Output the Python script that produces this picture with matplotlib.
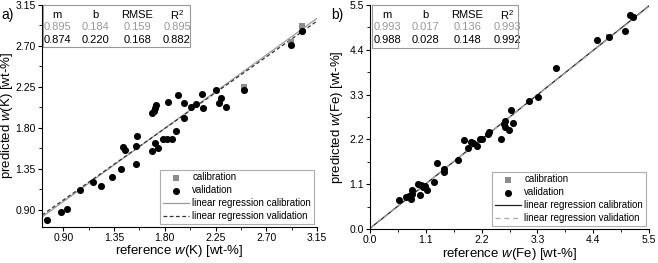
import numpy as np
import matplotlib
matplotlib.use('Agg')
import matplotlib.pyplot as plt
from matplotlib.patches import Rectangle
from matplotlib.ticker import MultipleLocator, FormatStrFormatter

plt.rcParams['font.family'] = ['Liberation Sans', 'DejaVu Sans']
plt.rcParams['mathtext.fontset'] = 'custom'
plt.rcParams['mathtext.rm'] = 'Liberation Sans'
plt.rcParams['mathtext.it'] = 'Liberation Sans:italic'

# ---- panel a: potassium ----
k_val_ref = [0.75, 0.88, 0.93, 1.05, 1.16, 1.23, 1.33, 1.41, 1.43, 1.45,
             1.54, 1.54, 1.55, 1.69, 1.71, 1.735, 1.78, 1.82, 1.86, 1.90,
             1.97, 1.69, 1.70, 1.715, 1.72, 1.83, 1.92, 1.97, 2.03, 2.08,
             2.13, 2.14, 2.25, 2.28, 2.30, 2.34, 2.50, 2.92, 3.015]
k_val_pred = [0.79, 0.87, 0.91, 1.115, 1.20, 1.16, 1.255, 1.35, 1.59, 1.56,
              1.40, 1.60, 1.71, 1.54, 1.63, 1.58, 1.675, 1.675, 1.675, 1.76,
              1.905, 1.96, 1.99, 2.02, 2.05, 2.08, 2.16, 2.07, 2.03, 2.06,
              2.17, 2.02, 2.22, 2.07, 2.13, 2.03, 2.22, 2.71, 2.865]
k_cal_ref = [2.50, 2.92, 3.015]
k_cal_pred = [2.25, 2.745, 2.92]
k_stats_cal = ['0.895', '0.184', '0.159', '0.895']
k_stats_val = ['0.874', '0.220', '0.168', '0.882']
k_fit_cal = (0.895, 0.184)
k_fit_val = (0.874, 0.220)

# ---- panel b: iron ----
fe_val_ref = [0.578, 0.715, 0.775, 0.808, 0.82, 0.834, 0.952, 0.985, 1.0, 1.04,
              1.084, 1.118, 1.27, 1.33, 1.45, 1.46, 1.73, 1.85, 1.925, 1.99,
              2.04, 2.10, 2.16, 2.21, 2.325, 2.345, 2.58, 2.65, 2.67, 2.67,
              2.745, 2.81, 2.78, 3.13, 3.32, 3.67, 4.48, 4.71, 5.03, 5.12, 5.19]
fe_val_pred = [0.70, 0.775, 0.81, 0.73, 0.855, 0.965, 1.11, 0.84, 1.075, 1.04,
               1.06, 0.96, 1.165, 1.61, 1.405, 1.485, 1.69, 2.19, 2.00, 2.13,
               2.10, 2.05, 2.20, 2.20, 2.33, 2.37, 2.22, 2.57, 2.51, 2.65,
               2.44, 2.60, 2.93, 3.14, 3.23, 3.96, 4.64, 4.72, 4.87, 5.26, 5.20]
fe_cal_ref = [4.71, 5.19]
fe_cal_pred = [4.72, 5.20]
fe_stats_cal = ['0.993', '0.017', '0.136', '0.993']
fe_stats_val = ['0.988', '0.028', '0.148', '0.992']
fe_fit_cal = (0.993, 0.017)
fe_fit_val = (0.988, 0.028)

headers = ['m', 'b', 'RMSE', 'R$^2$']

W, H = 658, 263
fig = plt.figure(figsize=(W / 100, H / 100), dpi=100)


def px_axes(l, t, r, b):
    return fig.add_axes([l / W, 1 - b / H, (r - l) / W, (b - t) / H])


def style(ax, step, fmt):
    for s in ['top', 'right']:
        ax.spines[s].set_visible(False)
    for s in ['left', 'bottom']:
        ax.spines[s].set_linewidth(0.8)
    ax.xaxis.set_major_locator(MultipleLocator(step))
    ax.yaxis.set_major_locator(MultipleLocator(step))
    ax.xaxis.set_minor_locator(MultipleLocator(step / 2))
    ax.yaxis.set_minor_locator(MultipleLocator(step / 2))
    ax.xaxis.set_major_formatter(FormatStrFormatter(fmt))
    ax.yaxis.set_major_formatter(FormatStrFormatter(fmt))
    ax.tick_params(which='major', direction='out', length=3, width=0.8,
                   labelsize=7.5, pad=1.5)
    ax.tick_params(which='minor', direction='out', length=2, width=0.6)


def table(ax, cols, rows, box, cal, val):
    x0, y0, x1, y1 = box
    ax.add_patch(Rectangle((x0, y0), x1 - x0, y1 - y0, transform=ax.transAxes,
                           fill=False, edgecolor='#999999', lw=0.8, zorder=5,
                           clip_on=False))
    for c, h, vc, vv in zip(cols, headers, cal, val):
        ax.text(c, rows[0], h, transform=ax.transAxes, ha='center', va='center',
                fontsize=8, color='black')
        ax.text(c, rows[1], vc, transform=ax.transAxes, ha='center', va='center',
                fontsize=8, color='#999999')
        ax.text(c, rows[2], vv, transform=ax.transAxes, ha='center', va='center',
                fontsize=8, color='black')


def panel(ax, lim, step, fmt, cal_ref, cal_pred, val_ref, val_pred, fit_cal,
          fit_val, cal_style, val_style, elem, tab_cols, tab_rows, tab_box,
          st_cal, st_val, xlab_y, ylab_x):
    xs = np.array(lim)
    ax.plot(xs, fit_cal[0] * xs + fit_cal[1], label='linear regression calibration',
            zorder=2, **cal_style)
    ax.plot(xs, fit_val[0] * xs + fit_val[1], label='linear regression validation',
            zorder=2, **val_style)
    ax.scatter(cal_ref, cal_pred, marker='s', s=18, color='#8c8c8c', lw=0,
               label='calibration', zorder=3)
    ax.scatter(val_ref, val_pred, marker='o', s=26, color='black', lw=0,
               label='validation', zorder=4)
    ax.set_xlim(lim)
    ax.set_ylim(lim)
    style(ax, step, fmt)
    ax.set_xlabel(r'reference $\mathit{w}$(' + elem + ') [wt-%]', fontsize=9.5)
    ax.set_ylabel(r'predicted $\mathit{w}$(' + elem + ') [wt-%]', fontsize=9.5)
    ax.xaxis.set_label_coords(0.5, xlab_y)
    ax.yaxis.set_label_coords(ylab_x, 0.5)
    h, l = ax.get_legend_handles_labels()
    order = [2, 3, 0, 1]
    leg = ax.legend([h[i] for i in order], [l[i] for i in order], loc='lower right',
                    fontsize=7, frameon=True, fancybox=False, borderaxespad=0.3,
                    handlelength=2.6, handletextpad=0.4, labelspacing=0.3,
                    borderpad=0.3)
    leg.get_frame().set_edgecolor('#999999')
    leg.get_frame().set_linewidth(0.8)
    table(ax, tab_cols, tab_rows, tab_box, st_cal, st_val)


ax_a = px_axes(42, 5, 317, 227)
panel(ax_a, (0.71, 3.15), 0.45, '%.2f', k_cal_ref, k_cal_pred, k_val_ref, k_val_pred,
      k_fit_cal, k_fit_val,
      dict(color='#9a9a9a', lw=0.9, ls='-'),
      dict(color='#333333', lw=0.9, ls=(0, (3, 2))),
      'K', [0.056, 0.194, 0.346, 0.491], [0.955, 0.901, 0.842],
      (0.005, 0.812, 0.539, 1.0), k_stats_cal, k_stats_val, -0.07, -0.098)

ax_b = px_axes(370, 5, 649, 229)
panel(ax_b, (0.0, 5.5), 1.1, '%.1f', fe_cal_ref, fe_cal_pred, fe_val_ref, fe_val_pred,
      fe_fit_cal, fe_fit_val,
      dict(color='#222222', lw=0.9, ls='-'),
      dict(color='#aaaaaa', lw=0.9, ls=(0, (4, 3))),
      'Fe', [0.062, 0.199, 0.348, 0.491], [0.956, 0.903, 0.845],
      (0.008, 0.808, 0.53, 1.0), fe_stats_cal, fe_stats_val, -0.078, -0.09)

fig.text(1 / W, 1 - 15 / H, 'a)', fontsize=10, va='center', ha='left')
fig.text(331 / W, 1 - 15 / H, 'b)', fontsize=10, va='center', ha='left')

fig.savefig('out.png', dpi=100)
